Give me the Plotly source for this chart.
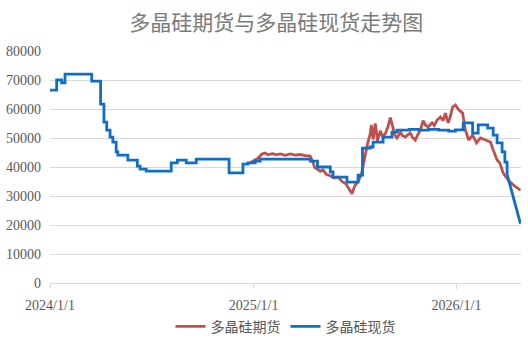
import plotly.graph_objects as go

# Spot (现货) step series: date of change -> value
spot_dates = [
    "2024-01-01", "2024-01-13", "2024-01-22", "2024-01-28", "2024-03-16", "2024-04-01",
    "2024-04-07", "2024-04-12", "2024-04-18", "2024-04-23", "2024-04-29", "2024-05-02",
    "2024-05-20", "2024-06-06", "2024-06-11", "2024-06-22", "2024-08-06", "2024-08-17",
    "2024-09-02", "2024-09-20", "2024-11-18", "2024-12-13", "2024-12-22", "2025-01-04",
    "2025-01-13", "2025-04-13", "2025-04-26", "2025-05-19", "2025-05-24", "2025-06-18",
    "2025-07-08", "2025-07-16", "2025-07-30", "2025-08-04", "2025-08-22", "2025-09-07",
    "2025-09-16", "2025-10-08", "2025-10-25", "2025-11-12", "2025-11-30", "2025-12-18",
    "2025-12-30", "2026-01-13", "2026-01-30", "2026-02-09", "2026-02-26", "2026-03-08",
    "2026-03-15", "2026-03-24", "2026-03-29", "2026-04-02",
]
spot_values = [
    66500, 70000, 69000, 72000, 69600, 61700,
    55500, 52700, 50300, 48600, 45200, 44100,
    42400, 40300, 39300, 38600, 41400, 42400,
    41400, 42700, 38000, 41000, 41400, 42000,
    42700, 42000, 40000, 38300, 36500, 34800,
    37200, 46500, 46900, 48600, 50300, 52000,
    52700, 53000, 52700, 53000, 52700, 52400,
    52800, 55200, 51700, 54500, 53400, 51000,
    48300, 45200, 41700, 37500,
]
# Spot final decline (drawn as a plain line)
spot_tail_dates = ["2026-04-02", "2026-04-09", "2026-04-16", "2026-04-21", "2026-04-26"]
spot_tail_values = [37500, 32500, 27500, 24000, 20500]

# Futures (期货) series
fut_dates = [
    "2024-12-26", "2025-01-03", "2025-01-09", "2025-01-16", "2025-01-22", "2025-01-27",
    "2025-02-04", "2025-02-11", "2025-02-18", "2025-02-27", "2025-03-08", "2025-03-17",
    "2025-03-26", "2025-04-04", "2025-04-13", "2025-04-18", "2025-04-21", "2025-04-24",
    "2025-05-01", "2025-05-06", "2025-05-12", "2025-05-19", "2025-05-26", "2025-06-02",
    "2025-06-09", "2025-06-16", "2025-06-23", "2025-06-27", "2025-07-02", "2025-07-08",
    "2025-07-14", "2025-07-19", "2025-07-25", "2025-07-30", "2025-08-01", "2025-08-04",
    "2025-08-08", "2025-08-12", "2025-08-17", "2025-08-21", "2025-08-26", "2025-08-31",
    "2025-09-04", "2025-09-09", "2025-09-12", "2025-09-16", "2025-09-22", "2025-09-26",
    "2025-10-01", "2025-10-06", "2025-10-10", "2025-10-14", "2025-10-19", "2025-10-23",
    "2025-10-28", "2025-11-02", "2025-11-06", "2025-11-11", "2025-11-18", "2025-11-22",
    "2025-11-27", "2025-12-03", "2025-12-08", "2025-12-12", "2025-12-17", "2025-12-21",
    "2025-12-25", "2025-12-30", "2026-01-05", "2026-01-12", "2026-01-17", "2026-01-23",
    "2026-01-30", "2026-02-06", "2026-02-13", "2026-02-22", "2026-03-03", "2026-03-08",
    "2026-03-15", "2026-03-20", "2026-03-26", "2026-04-04", "2026-04-13", "2026-04-26",
]
fut_values = [
    41500, 42500, 43000, 44500, 44800, 44200,
    44600, 44200, 44500, 44000, 44500, 44100,
    44300, 43900, 43800, 41500, 39800, 39500,
    38500, 39000, 37500, 37000, 36200, 36500,
    35000, 34200, 32000, 30800, 33500, 35000,
    37500, 42500, 48000, 51500, 54500, 49500,
    55000, 49000, 52500, 50500, 51500, 54000,
    57000, 53400, 51000, 50000, 52000, 50800,
    50300, 51200, 51700, 50200, 49300, 51000,
    52700, 56000, 54500, 53800, 55200, 54300,
    56200, 57200, 56000, 58600, 55200, 57500,
    60700, 61400, 59700, 58600, 52700, 49300,
    51000, 48300, 50000, 49300, 48600, 45900,
    42400, 41400, 37900, 35500, 33800, 32000,
]

x_tick_vals = ["2024-01-01", "2025-01-01", "2026-01-01"]
x_tick_text = ["2024/1/1", "2025/1/1", "2026/1/1"]

title_text = "多晶硅期货与多晶硅现货走势图"
name_fut = "多晶硅期货"
name_spot = "多晶硅现货"

RED = "#C0504D"
BLUE = "#0F6FC6"

fig = go.Figure()
fig.add_trace(go.Scatter(
    x=fut_dates, y=fut_values, mode="lines", name=name_fut,
    line=dict(color=RED, width=2.8),
))
fig.add_trace(go.Scatter(
    x=spot_dates, y=spot_values, mode="lines", name=name_spot, legendgroup="spot",
    line=dict(color=BLUE, width=2.8, shape="hv"),
))
fig.add_trace(go.Scatter(
    x=spot_tail_dates, y=spot_tail_values, mode="lines", name=name_spot,
    legendgroup="spot", showlegend=False,
    line=dict(color=BLUE, width=2.8),
))

fig.update_layout(
    width=528, height=344,
    margin=dict(l=50, r=7, t=51, b=61, autoexpand=False),
    paper_bgcolor="white", plot_bgcolor="white",
    title=dict(text=title_text, x=0.523, xanchor="center", y=0.935, yanchor="middle",
               font=dict(family="Noto Sans CJK SC", size=21, color="#7a7a7a")),
    font=dict(family="Liberation Serif, Noto Sans CJK SC", size=14, color="#595959"),
    showlegend=True,
    legend=dict(orientation="h", x=0.5, xanchor="center",
                yref="container", y=0.05, yanchor="middle",
                font=dict(family="Liberation Serif, Noto Sans CJK SC", size=14, color="#595959"),
                itemwidth=30, tracegroupgap=0),
    xaxis=dict(
        type="date", range=["2024-01-01", "2026-04-27"],
        tickvals=x_tick_vals, ticktext=x_tick_text,
        showgrid=False, showline=True, linecolor="#d9d9d9", linewidth=1,
        ticks="outside", ticklen=5, tickcolor="#d9d9d9",
        tickfont=dict(family="Liberation Serif", size=14, color="#595959"),
        zeroline=False, ticklabelstandoff=4,
    ),
    yaxis=dict(
        range=[0, 80000], dtick=10000, tick0=0, tickformat="d",
        showgrid=True, gridcolor="#d9d9d9", gridwidth=1,
        zeroline=False, showline=False,
        tickfont=dict(family="Liberation Serif", size=14, color="#595959"),
        ticklabelstandoff=8,
    ),
)

fig.write_html("out.html")
